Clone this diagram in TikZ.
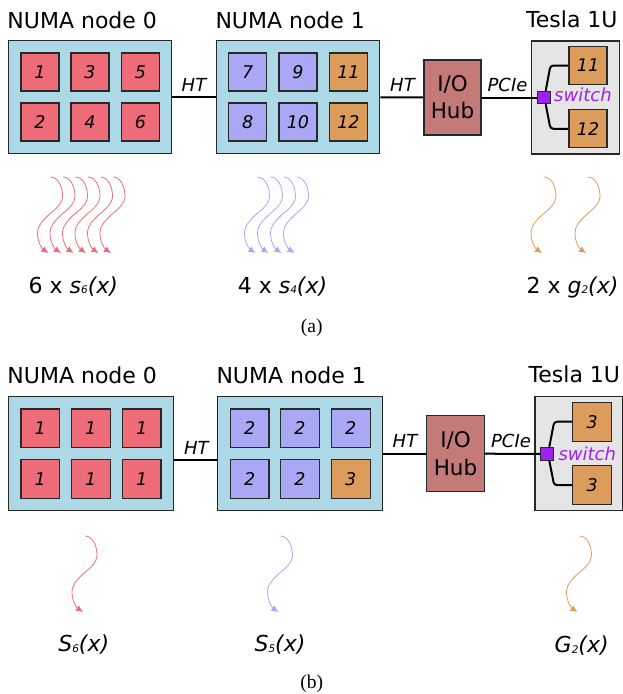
\documentclass[tikz,border=0pt]{standalone}
\usepackage{fontspec}
\setsansfont{DejaVu Sans}
\usetikzlibrary{arrows.meta}

\definecolor{numabg}{RGB}{173,216,230}
\definecolor{cpured}{RGB}{238,107,122}
\definecolor{cpublue}{RGB}{168,168,245}
\definecolor{gpuorange}{RGB}{220,157,92}
\definecolor{hubred}{RGB}{197,122,122}
\definecolor{teslagray}{RGB}{229,229,229}
\definecolor{switchpurple}{RGB}{160,32,240}
\definecolor{edgegray}{RGB}{40,40,40}

% small, slightly lowered index used in the function names
\newcommand\lowidx[1]{\raisebox{-0.8pt}{\fontsize{10.5}{12}\selectfont #1}}
% serif face for the sub-figure tags
\newfontfamily\tagfont{Liberation Serif}

\tikzset{
  numa/.style={draw=edgegray, line width=1.1pt, fill=numabg, inner sep=0pt,
    minimum width=163pt, minimum height=113pt},
  core/.style={draw=edgegray, line width=1.1pt, inner sep=0pt, minimum size=38pt,
    font=\sffamily\itshape\fontsize{17.5}{20}\selectfont},
  title/.style={anchor=base west, inner sep=0pt, font=\sffamily\fontsize{22}{24}\selectfont},
  link/.style={line width=2pt, black},
  linklabel/.style={anchor=base, inner sep=0pt, font=\sffamily\itshape\fontsize{18}{20}\selectfont},
  hub/.style={draw=edgegray, line width=1.1pt, fill=hubred, inner sep=0pt,
    minimum width=57pt, minimum height=75pt, align=center,
    font=\sffamily\fontsize{21.5}{27.3}\selectfont},
  tesla/.style={draw=edgegray, line width=1.1pt, fill=teslagray, inner sep=0pt,
    minimum width=88pt, minimum height=113pt},
  swbox/.style={draw=edgegray, line width=0.9pt, fill=switchpurple, inner sep=0pt, minimum size=12.5pt},
  swlabel/.style={anchor=base west, inner sep=0pt, text=switchpurple,
    font=\sffamily\itshape\fontsize{18}{20}\selectfont},
  fname/.style={anchor=base, inner sep=0pt, font=\sffamily\fontsize{22}{24}\selectfont},
  subtag/.style={anchor=base, inner sep=0pt, font=\tagfont\fontsize{19.5}{22}\selectfont},
  flow/.style={line width=0.8pt, -{Latex[length=7pt,width=6.5pt]}},
  flowarrow/.pic={
    \draw[flow] (2,-76) .. controls (9,-76) and (14,-67) .. (14,-57)
                        .. controls (14,-49) and (6,-43) .. (0,-38)
                        .. controls (-5,-33) and (-11,-28) .. (-11,-20)
                        .. controls (-11,-10) and (-6,-4) .. (0,0);
  },
}

\begin{document}
\begin{tikzpicture}[x=1pt, y=-1pt]
\useasboundingbox (0,0) rectangle (623,694);

% ===================== (a) =====================
\node[title] (t0a) at (7.3,28) {NUMA node 0};
\node[title] (t1a) at (215.3,28) {NUMA node 1};
\node[title] (tta) at (526,27.7) {Tesla 1U};

\node[numa] (n0a) at (90.2,97.4) {};
\node[core, fill=cpured] (a1) at (40,72) {1};
\node[core, fill=cpured] (a3) at (90,72) {3};
\node[core, fill=cpured] (a5) at (140.5,72) {5};
\node[core, fill=cpured] (a2) at (40,122) {2};
\node[core, fill=cpured] (a4) at (90,122) {4};
\node[core, fill=cpured] (a6) at (140.5,122) {6};

\node[numa] (n1a) at (298.3,97.4) {};
\node[core, fill=cpublue] (a7) at (247.7,72) {7};
\node[core, fill=cpublue] (a9) at (298,72) {9};
\node[core, fill=gpuorange] (a11) at (348.5,72) {11};
\node[core, fill=cpublue] (a8) at (247.7,122) {8};
\node[core, fill=cpublue] (a10) at (298,122) {10};
\node[core, fill=gpuorange] (a12) at (348.5,122) {12};

\node[hub] (huba) at (452.5,97.5) {I/O\\Hub};

\node[tesla] (tsa) at (575.2,97.5) {};
\node[core, fill=gpuorange] (ga1) at (588,65.5) {11};
\node[core, fill=gpuorange] (ga2) at (588,128.8) {12};
\node[swbox] (swa) at (543.7,97.5) {};

\draw[link] (n0a) -- (n1a);
\draw[link] (n1a) -- (huba);
\draw[link] (huba) -- (swa);
\draw[link, rounded corners=3pt] ([xshift=2pt]swa.north) -- ([xshift=-18pt]ga1.west) -- (ga1.west);
\draw[link, rounded corners=3pt] ([xshift=2pt]swa.south) -- ([xshift=-18pt]ga2.west) -- (ga2.west);

\node[linklabel] (hta1) at (194,91) {HT};
\node[linklabel] (hta2) at (402.5,91.7) {HT};
\node[linklabel] (pcia) at (507.5,91.7) {PCIe};
\node[swlabel] (swta) at (554,101.7) {switch};

% work items streaming out of each device
\foreach \i in {0,...,5} \pic[color=cpured] at ({48.5+12.5*\i},253) {flowarrow};
\foreach \i in {0,...,3} \pic[color=cpublue] at ({255.5+13*\i},253) {flowarrow};
\foreach \i in {0,1} \pic[color=gpuorange] at ({542+44*\i},253) {flowarrow};

\node[fname] (fa1) at (73.3,293) {6 x \textit{s\lowidx{6}(x)}};
\node[fname] (fa2) at (282.5,293) {4 x \textit{s\lowidx{4}(x)}};
\node[fname] (fa3) at (572.5,293) {2 x \textit{g\lowidx{2}(x)}};

\node[subtag] (capa) at (311.7,332.5) {(a)};

% ===================== (b) =====================
\node[title] (t0b) at (7.3,383.3) {NUMA node 0};
\node[title] (t1b) at (216.3,383.3) {NUMA node 1};
\node[title] (ttb) at (528.5,382.7) {Tesla 1U};

\node[numa, minimum width=165pt, minimum height=114pt] (n0b) at (90.8,453.7) {};
\node[core, fill=cpured, minimum size=38.5pt] (b1) at (40.2,428.2) {1};
\node[core, fill=cpured, minimum size=38.5pt] (b2) at (90.8,428.2) {1};
\node[core, fill=cpured, minimum size=38.5pt] (b3) at (141.7,428.2) {1};
\node[core, fill=cpured, minimum size=38.5pt] (b4) at (40.2,478.8) {1};
\node[core, fill=cpured, minimum size=38.5pt] (b5) at (90.8,478.8) {1};
\node[core, fill=cpured, minimum size=38.5pt] (b6) at (141.7,478.8) {1};

\node[numa, minimum width=165pt, minimum height=114pt] (n1b) at (300.2,453.7) {};
\node[core, fill=cpublue, minimum size=38.5pt] (b7) at (249.7,428.2) {2};
\node[core, fill=cpublue, minimum size=38.5pt] (b8) at (300,428.2) {2};
\node[core, fill=cpublue, minimum size=38.5pt] (b9) at (350.8,428.2) {2};
\node[core, fill=cpublue, minimum size=38.5pt] (b10) at (249.7,478.8) {2};
\node[core, fill=cpublue, minimum size=38.5pt] (b11) at (300,478.8) {2};
\node[core, fill=gpuorange, minimum size=38.5pt] (b12) at (350.8,478.8) {3};

\node[hub, minimum width=57.6pt, minimum height=76pt] (hubb) at (455.5,453.7) {I/O\\Hub};

\node[tesla, minimum width=87.7pt, minimum height=114pt] (tsb) at (578.8,453.7) {};
\node[core, fill=gpuorange, minimum size=39pt] (gb1) at (592.2,421.7) {3};
\node[core, fill=gpuorange, minimum size=39pt] (gb2) at (592.2,485.2) {3};
\node[swbox, minimum size=13pt] (swb) at (547.3,453.8) {};

\draw[link] ([yshift=-6.3pt]n0b.east) -- ([yshift=-6.3pt]n1b.west);
\draw[link] (n1b) -- (hubb);
\draw[link] (hubb) -- (swb);
\draw[link, rounded corners=3pt] ([xshift=2pt]swb.north) -- ([xshift=-18pt]gb1.west) -- (gb1.west);
\draw[link, rounded corners=3pt] ([xshift=2pt]swb.south) -- ([xshift=-18pt]gb2.west) -- (gb2.west);

\node[linklabel] (htb1) at (196.3,454) {HT};
\node[linklabel] (htb2) at (405,447.3) {HT};
\node[linklabel] (pcib) at (511,447.3) {PCIe};
\node[swlabel] (swtb) at (558.3,460) {switch};

\pic[color=cpured] at (83,612) {flowarrow};
\pic[color=cpublue] at (278.5,612) {flowarrow};
\pic[color=gpuorange] at (577.5,612) {flowarrow};

\node[fname] (fb1) at (83.7,651.5) {\textit{S\lowidx{6}(x)}};
\node[fname] (fb2) at (280,651.5) {\textit{S\lowidx{5}(x)}};
\node[fname] (fb3) at (581.7,652.5) {\textit{G\lowidx{2}(x)}};

\node[subtag] (capb) at (311.7,688) {(b)};
\end{tikzpicture}
\end{document}
